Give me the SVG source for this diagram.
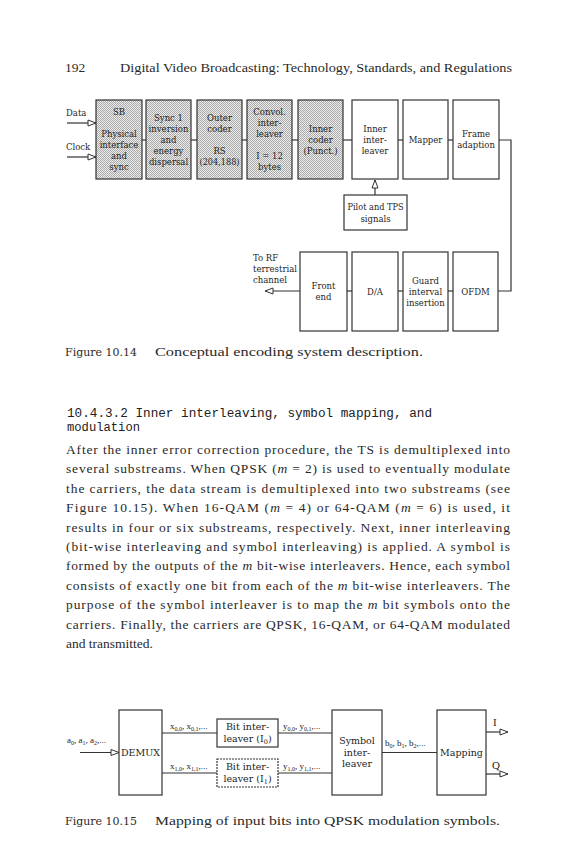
<svg xmlns="http://www.w3.org/2000/svg" width="576" height="864" viewBox="0 0 576 864">
<defs>
<pattern id="dots" width="2" height="2" patternUnits="userSpaceOnUse">
<rect width="2" height="2" fill="#eeeeee"/>
<rect width="1" height="1" fill="#a8a8a8"/>
<rect x="1" y="1" width="1" height="1" fill="#a8a8a8"/>
</pattern>
<marker id="ah" markerWidth="10" markerHeight="8" refX="9" refY="4" orient="auto" markerUnits="userSpaceOnUse">
<path d="M1,1 L9,4 L1,7 z" fill="#fff" stroke="#333" stroke-width="1"/>
</marker>
</defs>
<style>
.box{stroke:#333;stroke-width:1.2}
.hatch{fill:url(#dots)}
.plain{fill:#fff}
.lbl{font-family:"DejaVu Serif",serif;font-size:8.5px;fill:#1e1e1e;text-anchor:middle}
.lb2{font-family:"DejaVu Serif",serif;font-size:9.5px;fill:#1e1e1e;text-anchor:middle}
.sm{font-family:"Liberation Serif",serif;font-size:9px;fill:#222}
.conn{stroke:#333;stroke-width:1.2;fill:none}
.body{font-family:"Liberation Serif",serif;font-size:13.5px;fill:#2a2a2a}
.mono{font-family:"Liberation Mono",monospace;fill:#222}
.cap{font-family:"DejaVu Serif",serif;fill:#2a2a2a}
</style>
<rect width="576" height="864" fill="#fff"/>

<g id="header">
<text class="body" x="65" y="72" font-size="13">192</text>
<text class="body" x="120" y="72" font-size="13" textLength="392" lengthAdjust="spacingAndGlyphs">Digital Video Broadcasting: Technology, Standards, and Regulations</text>
</g>

<!-- Figure 10.14 -->
<g id="connectors-fig14">
<line class="conn" x1="142" y1="140" x2="146" y2="140"/>
<line class="conn" x1="191" y1="140" x2="197" y2="140"/>
<line class="conn" x1="242" y1="140" x2="247" y2="140"/>
<line class="conn" x1="292" y1="140" x2="298" y2="140"/>
<line class="conn" x1="343" y1="140" x2="352" y2="140"/>
<line class="conn" x1="398" y1="140" x2="403" y2="140"/>
<line class="conn" x1="448" y1="140" x2="453" y2="140"/>
<polyline class="conn" points="499,140 511,140 511,291 498,291"/>
<line class="conn" x1="448" y1="291" x2="453" y2="291"/>
<line class="conn" x1="398" y1="291" x2="403" y2="291"/>
<line class="conn" x1="347" y1="291" x2="352" y2="291"/>
<line class="conn" x1="300" y1="291" x2="265" y2="291" marker-end="url(#ah)"/>
<line class="conn" x1="375" y1="195" x2="375" y2="180" marker-end="url(#ah)"/>
<line class="conn" x1="67" y1="123" x2="96" y2="123" stroke-width="1.8" marker-end="url(#ah)"/>
<line class="conn" x1="67" y1="157" x2="96" y2="157" stroke-width="1.8" marker-end="url(#ah)"/>
</g>

<g id="inputs">
<text class="lbl" x="66" y="116" style="text-anchor:start">Data</text>
<text class="lbl" x="66" y="150" style="text-anchor:start">Clock</text>
</g>

<g id="n-sb">
<rect class="box hatch" x="96" y="100" width="46" height="79"/>
<text class="lbl" x="119" y="115">SB</text>
<text class="lbl" x="119" y="137">Physical</text>
<text class="lbl" x="119" y="148">interface</text>
<text class="lbl" x="119" y="159">and</text>
<text class="lbl" x="119" y="170">sync</text>
</g>
<g id="n-sync">
<rect class="box hatch" x="146" y="100" width="45" height="79"/>
<text class="lbl" x="168.5" y="120.5">Sync 1</text>
<text class="lbl" x="168.5" y="131.5">inversion</text>
<text class="lbl" x="168.5" y="142.5">and</text>
<text class="lbl" x="168.5" y="153.5">energy</text>
<text class="lbl" x="168.5" y="164.5">dispersal</text>
</g>
<g id="n-outer">
<rect class="box hatch" x="197" y="100" width="45" height="79"/>
<text class="lbl" x="219.5" y="120.5">Outer</text>
<text class="lbl" x="219.5" y="131.5">coder</text>
<text class="lbl" x="219.5" y="153.5">RS</text>
<text class="lbl" x="219.5" y="164.5" textLength="40" lengthAdjust="spacingAndGlyphs">(204,188)</text>
</g>
<g id="n-convol">
<rect class="box hatch" x="247" y="100" width="45" height="79"/>
<text class="lbl" x="269.5" y="115">Convol.</text>
<text class="lbl" x="269.5" y="126">inter-</text>
<text class="lbl" x="269.5" y="137">leaver</text>
<text class="lbl" x="269.5" y="159">I = 12</text>
<text class="lbl" x="269.5" y="170">bytes</text>
</g>
<g id="n-innercoder">
<rect class="box hatch" x="298" y="100" width="45" height="79"/>
<text class="lbl" x="320.5" y="131.5">Inner</text>
<text class="lbl" x="320.5" y="142.5">coder</text>
<text class="lbl" x="320.5" y="153.5">(Punct.)</text>
</g>
<g id="n-innerint">
<rect class="box plain" x="352" y="100" width="46" height="79"/>
<text class="lbl" x="375" y="131.5">Inner</text>
<text class="lbl" x="375" y="142.5">inter-</text>
<text class="lbl" x="375" y="153.5">leaver</text>
</g>
<g id="n-mapper">
<rect class="box plain" x="403" y="100" width="45" height="79"/>
<text class="lbl" x="425.5" y="142.5">Mapper</text>
</g>
<g id="n-frame">
<rect class="box plain" x="453" y="100" width="46" height="79"/>
<text class="lbl" x="476" y="137">Frame</text>
<text class="lbl" x="476" y="148">adaption</text>
</g>
<g id="n-pilot">
<rect class="box plain" x="344" y="195" width="63" height="35"/>
<text class="lbl" x="375.5" y="210" textLength="56" lengthAdjust="spacingAndGlyphs">Pilot and TPS</text>
<text class="lbl" x="375.5" y="221.5">signals</text>
</g>
<g id="n-rf">
<text class="lbl" x="253" y="261" style="text-anchor:start">To RF</text>
<text class="lbl" x="253" y="272" style="text-anchor:start">terrestrial</text>
<text class="lbl" x="253" y="283" style="text-anchor:start">channel</text>
</g>
<g id="n-front">
<rect class="box plain" x="300" y="252" width="47" height="79"/>
<text class="lbl" x="323.5" y="289">Front</text>
<text class="lbl" x="323.5" y="300">end</text>
</g>
<g id="n-da">
<rect class="box plain" x="352" y="252" width="46" height="79"/>
<text class="lbl" x="375" y="294.5">D/A</text>
</g>
<g id="n-guard">
<rect class="box plain" x="403" y="252" width="45" height="79"/>
<text class="lbl" x="425.5" y="283.5">Guard</text>
<text class="lbl" x="425.5" y="294.5">interval</text>
<text class="lbl" x="425.5" y="305.5">insertion</text>
</g>
<g id="n-ofdm">
<rect class="box plain" x="453" y="252" width="45" height="79"/>
<text class="lbl" x="475.5" y="294.5">OFDM</text>
</g>

<g id="caption14">
<text class="cap" x="65" y="356" font-size="11.5" textLength="72" lengthAdjust="spacingAndGlyphs">Figure 10.14</text>
<text class="body" x="155" y="356" textLength="268" lengthAdjust="spacingAndGlyphs">Conceptual encoding system description.</text>
</g>

<g id="section">
<text class="mono" x="67" y="417" font-size="12.5" textLength="365" lengthAdjust="spacingAndGlyphs">10.4.3.2   Inner interleaving, symbol mapping, and</text>
<text class="mono" x="67" y="431" font-size="12.5" textLength="73" lengthAdjust="spacingAndGlyphs">modulation</text>
</g>

<g id="paragraph" class="body">
<text x="66" y="454" textLength="444" lengthAdjust="spacing">After the inner error correction procedure, the TS is demultiplexed into</text>
<text x="66" y="473.4" textLength="444" lengthAdjust="spacing">several substreams. When QPSK (<tspan font-style="italic">m</tspan> = 2) is used to eventually modulate</text>
<text x="66" y="492.8" textLength="444" lengthAdjust="spacing">the carriers, the data stream is demultiplexed into two substreams (see</text>
<text x="66" y="512.2" textLength="444" lengthAdjust="spacing">Figure 10.15). When 16-QAM (<tspan font-style="italic">m</tspan> = 4) or 64-QAM (<tspan font-style="italic">m</tspan> = 6) is used, it</text>
<text x="66" y="531.6" textLength="444" lengthAdjust="spacing">results in four or six substreams, respectively. Next, inner interleaving</text>
<text x="66" y="551" textLength="444" lengthAdjust="spacing">(bit-wise interleaving and symbol interleaving) is applied. A symbol is</text>
<text x="66" y="570.4" textLength="444" lengthAdjust="spacing">formed by the outputs of the <tspan font-style="italic">m</tspan> bit-wise interleavers. Hence, each symbol</text>
<text x="66" y="589.8" textLength="444" lengthAdjust="spacing">consists of exactly one bit from each of the <tspan font-style="italic">m</tspan> bit-wise interleavers. The</text>
<text x="66" y="609.2" textLength="444" lengthAdjust="spacing">purpose of the symbol interleaver is to map the <tspan font-style="italic">m</tspan> bit symbols onto the</text>
<text x="66" y="628.6" textLength="444" lengthAdjust="spacing">carriers. Finally, the carriers are QPSK, 16-QAM, or 64-QAM modulated</text>
<text x="66" y="648">and transmitted.</text>
</g>

<!-- Figure 10.15 -->
<g id="connectors-fig15">
<line class="conn" x1="80" y1="752.5" x2="119" y2="752.5" stroke-width="1.8" marker-end="url(#ah)"/>
<line class="conn" x1="162" y1="733" x2="217" y2="733"/>
<line class="conn" x1="162" y1="773" x2="217" y2="773"/>
<line class="conn" x1="278" y1="733" x2="332" y2="733"/>
<line class="conn" x1="278" y1="773" x2="332" y2="773"/>
<line class="conn" x1="382" y1="752.5" x2="437" y2="752.5"/>
<line class="conn" x1="486" y1="732" x2="508" y2="732" marker-end="url(#ah)"/>
<line class="conn" x1="486" y1="774" x2="508" y2="774" marker-end="url(#ah)"/>
</g>
<g id="labels-fig15" class="sm">
<text x="67" y="743">a<tspan font-size="6" dy="2">0</tspan><tspan dy="-2">, a</tspan><tspan font-size="6" dy="2">1</tspan><tspan dy="-2">, a</tspan><tspan font-size="6" dy="2">2</tspan><tspan dy="-2">,...</tspan></text>
<text x="170" y="729">x<tspan font-size="6" dy="2">0,0</tspan><tspan dy="-2">, x</tspan><tspan font-size="6" dy="2">0,1</tspan><tspan dy="-2">,...</tspan></text>
<text x="170" y="769">x<tspan font-size="6" dy="2">1,0</tspan><tspan dy="-2">, x</tspan><tspan font-size="6" dy="2">1,1</tspan><tspan dy="-2">,...</tspan></text>
<text x="283" y="729">y<tspan font-size="6" dy="2">0,0</tspan><tspan dy="-2">, y</tspan><tspan font-size="6" dy="2">0,1</tspan><tspan dy="-2">,...</tspan></text>
<text x="283" y="769">y<tspan font-size="6" dy="2">1,0</tspan><tspan dy="-2">, y</tspan><tspan font-size="6" dy="2">1,1</tspan><tspan dy="-2">,...</tspan></text>
<text x="385" y="746">b<tspan font-size="6" dy="2">0</tspan><tspan dy="-2">, b</tspan><tspan font-size="6" dy="2">1</tspan><tspan dy="-2">, b</tspan><tspan font-size="6" dy="2">2</tspan><tspan dy="-2">,...</tspan></text>
<text x="493" y="726" font-size="11">I</text>
<text x="492" y="769" font-size="11">Q</text>
</g>
<g id="n-demux">
<rect class="box plain" x="119" y="710" width="43" height="85"/>
<text class="lb2" x="140.5" y="756">DEMUX</text>
</g>
<g id="n-bit0">
<rect class="box plain" x="217" y="719" width="61" height="28"/>
<text class="lb2" x="247.5" y="730">Bit inter-</text>
<text class="lb2" x="247.5" y="742">leaver (I<tspan font-size="6.5" dy="2">0</tspan><tspan dy="-2">)</tspan></text>
</g>
<g id="n-bit1">
<rect class="box plain" x="217" y="759" width="61" height="28" stroke-dasharray="2,1"/>
<text class="lb2" x="247.5" y="770">Bit inter-</text>
<text class="lb2" x="247.5" y="782">leaver (I<tspan font-size="6.5" dy="2">1</tspan><tspan dy="-2">)</tspan></text>
</g>
<g id="n-symbol">
<rect class="box plain" x="332" y="710" width="50" height="85"/>
<text class="lb2" x="357" y="744">Symbol</text>
<text class="lb2" x="357" y="756" font-size="9">inter-</text>
<text class="lb2" x="357" y="767" font-size="9">leaver</text>
</g>
<g id="n-mapping">
<rect class="box plain" x="437" y="710" width="49" height="85"/>
<text class="lb2" x="461.5" y="756">Mapping</text>
</g>

<g id="caption15">
<text class="cap" x="65" y="825" font-size="11.5" textLength="72" lengthAdjust="spacingAndGlyphs">Figure 10.15</text>
<text class="body" x="155" y="825" textLength="345" lengthAdjust="spacingAndGlyphs">Mapping of input bits into QPSK modulation symbols.</text>
</g>
</svg>
